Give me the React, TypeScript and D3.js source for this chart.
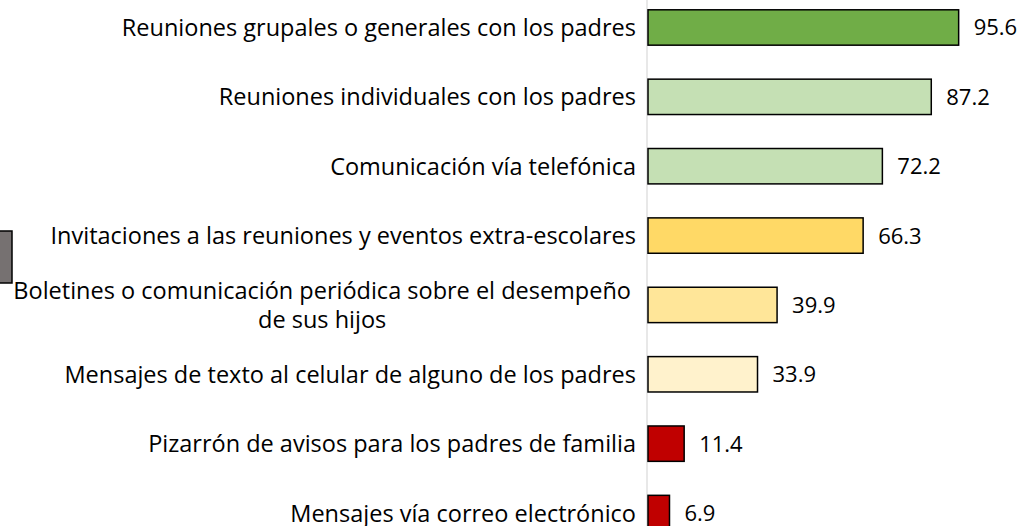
import React, { useEffect, useRef } from 'react';
import * as d3 from 'd3';

const categories: string[][] = [
  ["Reuniones grupales o generales con los padres"],
  ["Reuniones individuales con los padres"],
  ["Comunicación vía telefónica"],
  ["Invitaciones a las reuniones y eventos extra-escolares"],
  ["Boletines o comunicación periódica sobre el desempeño", "de sus hijos"],
  ["Mensajes de texto al celular de alguno de los padres"],
  ["Pizarrón de avisos para los padres de familia"],
  ["Mensajes vía correo electrónico"],
];
const values = [95.6, 87.2, 72.2, 66.3, 39.9, 33.9, 11.4, 6.9];
const barColors = ["#70AD47", "#C5E0B4", "#C5E0B4", "#FFD966", "#FFE699", "#FFF2CC", "#C00000", "#C00000"];

const FONT = "'Open Sans', sans-serif";
const LABEL_SIZE = 23.5;
const VALUE_SIZE = 22;

const App: React.FC = () => {
  const svgRef = useRef<SVGSVGElement>(null);

  useEffect(() => {
    if (!svgRef.current) return;
    const width = 1020;
    const height = 526;
    const axisX = 647;

    const svg = d3.select(svgRef.current);
    svg.selectAll("*").remove();
    svg.attr("width", width).attr("height", height);

    const keys = categories.map((_, i) => String(i));

    const x = d3.scaleLinear().domain([0, 100]).range([axisX, axisX + 326]);
    const y = d3.scaleBand<string>()
      .domain(keys)
      .range([-7.2, 547.7])
      .paddingInner(0.49)
      .paddingOuter(0.245);

    // stray legend swatch at left edge
    svg.append("rect")
      .attr("x", -10).attr("y", 231)
      .attr("width", 22).attr("height", 52)
      .attr("fill", "#767171")
      .attr("stroke", "#000").attr("stroke-width", 1.5);

    // vertical axis line
    svg.append("line")
      .attr("x1", axisX).attr("x2", axisX)
      .attr("y1", 0).attr("y2", height)
      .attr("stroke", "#d9d9d9").attr("stroke-width", 1.2);

    // bars
    svg.selectAll(".bar")
      .data(values)
      .enter()
      .append("rect")
      .attr("class", "bar")
      .attr("x", x(0) + 1)
      .attr("y", (_, i) => y(keys[i])!)
      .attr("width", d => x(d) - x(0) - 1)
      .attr("height", y.bandwidth())
      .attr("fill", (_, i) => barColors[i])
      .attr("stroke", "#000")
      .attr("stroke-width", 1.5);

    // value labels
    svg.selectAll(".val")
      .data(values)
      .enter()
      .append("text")
      .attr("class", "val")
      .attr("x", d => x(d) + 15)
      .attr("y", (_, i) => y(keys[i])! + y.bandwidth() / 2 + 8)
      .attr("font-family", FONT)
      .attr("font-size", VALUE_SIZE)
      .attr("fill", "#000")
      .text(d => d.toFixed(1));

    // category labels
    const labelRight = axisX - 11;
    categories.forEach((lines, i) => {
      const cy = y(keys[i])! + y.bandwidth() / 2;
      if (lines.length === 1) {
        svg.append("text")
          .attr("x", labelRight)
          .attr("y", cy + 8.5)
          .attr("text-anchor", "end")
          .attr("font-family", FONT)
          .attr("font-size", LABEL_SIZE)
          .attr("fill", "#000")
          .text(lines[0]);
      } else {
        const g = svg.append("g");
        const first = g.append("text")
          .attr("font-family", FONT)
          .attr("font-size", LABEL_SIZE)
          .text(lines[0]);
        const w = (first.node() as SVGTextElement).getComputedTextLength();
        const cx = labelRight - 5 - w / 2;
        first.remove();
        lines.forEach((ln, j) => {
          g.append("text")
            .attr("x", cx)
            .attr("y", cy + 8.5 + (j - (lines.length - 1) / 2) * 29)
            .attr("text-anchor", "middle")
            .attr("font-family", FONT)
            .attr("font-size", LABEL_SIZE)
            .attr("fill", "#000")
            .text(ln);
        });
      }
    });
  }, []);

  return (
    <div style={{ position: 'fixed', left: 0, top: 0, width: 1020, height: 526, background: '#fff', overflow: 'hidden' }}>
      <svg ref={svgRef} style={{ display: 'block' }}></svg>
    </div>
  );
};

export default App;
